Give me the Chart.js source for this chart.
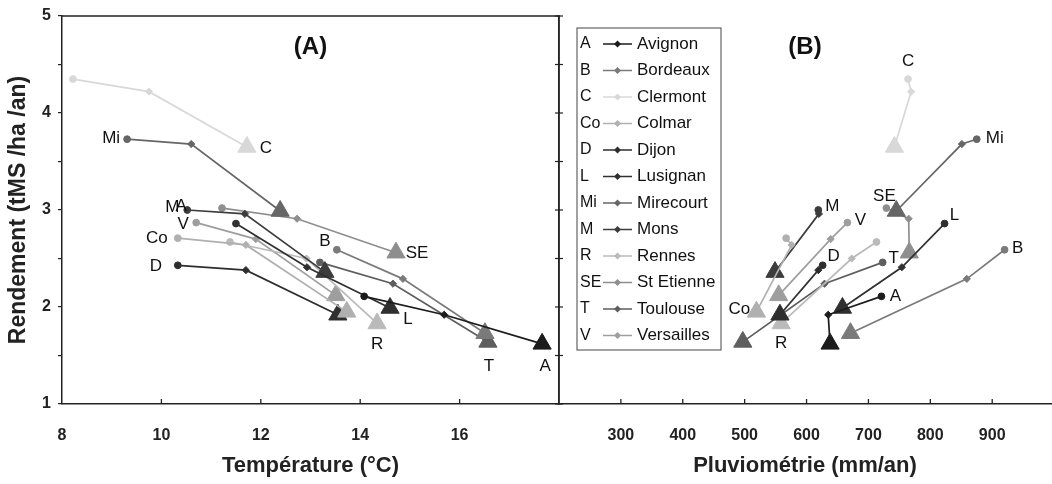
<!DOCTYPE html>
<html>
<head>
<meta charset="utf-8">
<script src="https://cdn.jsdelivr.net/npm/chart.js@4.4.1/dist/chart.umd.min.js"></script>
<style>
  html, body { margin: 0; padding: 0; background: #fff; overflow: hidden; }
  #wrap { position: relative; width: 1052px; height: 484px; }
  #wrap canvas { position: absolute; left: 0; top: 0; }
</style>
</head>
<body>
<div id="wrap">
  <canvas id="chartA" width="1052" height="484"></canvas>
  <canvas id="chartB" width="1052" height="484"></canvas>
</div>
<script>
// Sites, in legend order
const codes = ["A", "B", "C", "Co", "D", "L", "Mi", "M", "R", "SE", "T", "V"];
const sites = ["Avignon", "Bordeaux", "Clermont", "Colmar", "Dijon", "Lusignan",
  "Mirecourt", "Mons", "Rennes", "St Etienne", "Toulouse", "Versailles"];

// Three periods per site: two diamonds then the triangle
const rendement = [
  [2.11, 1.92, 1.62], [2.59, 2.29, 1.73], [4.35, 4.22, 3.65], [2.71, 2.64, 1.95],
  [2.43, 2.38, 1.92], [2.86, 2.41, 1.99], [3.73, 3.68, 2.99], [3.00, 2.96, 2.36],
  [2.67, 2.50, 1.83], [3.02, 2.91, 2.56], [2.46, 2.24, 1.64], [2.87, 2.70, 2.12]
];
const temperature = [
  [14.08, 15.69, 17.66], [13.53, 14.86, 16.51], [8.22, 9.75, 11.72], [10.33, 11.70, 13.73],
  [10.33, 11.70, 13.55], [11.50, 12.93, 14.60], [9.31, 10.60, 12.39], [10.52, 11.68, 13.29],
  [11.38, 12.92, 14.34], [11.22, 12.73, 14.72], [13.19, 14.66, 16.57], [10.70, 11.90, 13.51]
];
const pluviometrie = [
  [721, 635, 638], [920, 859, 671], [764, 769, 742], [567, 576, 519],
  [626, 619, 557], [823, 754, 658], [875, 851, 745], [619, 620, 549],
  [713, 673, 559], [729, 765, 766], [723, 629, 497], [666, 639, 555]
];

const tempTicks = [8, 10, 12, 14, 16];
const pluvTicks = [300, 400, 500, 600, 700, 800, 900];
const yTicks = [1, 1.5, 2, 2.5, 3, 3.5, 4, 4.5, 5];

const greys = ["#1c1c1c", "#7a7a7a", "#d8d8d8", "#b0b0b0", "#2e2e2e", "#303030",
  "#666666", "#3c3c3c", "#bababa", "#8e8e8e", "#5e5e5e", "#9e9e9e"];

// label placement: [site index, point index, text, dx, dy]
const labelsA = [
  [0, 2, "A", 3, 22], [1, 0, "B", -12, -8], [2, 2, "C", 19, 1], [3, 0, "Co", -21, 0],
  [4, 0, "D", -22, 1], [5, 2, "L", 18, 11], [6, 0, "Mi", -16, -1], [7, 0, "M", -15, -3],
  [7, 0, "A", -6, -4], [8, 2, "R", 0, 21], [9, 2, "SE", 21, 1], [10, 2, "T", 1, 24],
  [11, 0, "V", -13, 2]
];
const labelsB = [
  [0, 0, "A", 14, 0], [1, 0, "B", 13, -1], [2, 0, "C", 0, -18], [3, 2, "Co", -17, -3],
  [4, 0, "D", 11, -9], [5, 0, "L", 10, -8], [6, 0, "Mi", 18, -1], [7, 0, "M", 14, -4],
  [8, 2, "R", 0, 20], [9, 0, "SE", -2, -12], [10, 0, "T", 11, -4], [11, 0, "V", 13, -2]
];

const SANS = "'Liberation Sans', Arial, sans-serif";
const NARROW = "'Liberation Sans Narrow', 'Liberation Sans', Arial, sans-serif";
const INK = "#222";

function makeDatasets(xs) {
  return codes.map((c, i) => ({
    label: sites[i],
    data: xs[i].map((x, j) => ({ x: x, y: rendement[i][j] })),
    showLine: true,
    borderColor: greys[i],
    backgroundColor: greys[i],
    pointBackgroundColor: greys[i],
    pointBorderColor: greys[i],
    borderWidth: 1.7,
    pointStyle: ["circle", "rectRot", "triangle"],
    pointRadius: [3.4, 3.6, 10.5],
    pointBorderWidth: 1,
    clip: false
  }));
}

// Text labels, panel letter, inward x ticks, divider ticks and frame lines
const decorations = {
  id: "decorations",
  afterDraw(chart, args, opts) {
    const ctx = chart.ctx;
    const area = chart.chartArea;
    ctx.save();
    ctx.strokeStyle = INK;
    ctx.lineWidth = 1.3;
    const xs = chart.scales.x;
    opts.ticks.forEach(v => {
      const px = xs.getPixelForValue(v);
      if (px <= area.left + 1) return;
      ctx.beginPath();
      ctx.moveTo(px, area.bottom);
      ctx.lineTo(px, area.bottom - 5);
      ctx.stroke();
    });
    if (opts.frame) {
      ctx.lineWidth = 1.5;
      ctx.beginPath();
      ctx.moveTo(area.left, area.top);
      ctx.lineTo(area.right, area.top);
      ctx.lineTo(area.right, area.bottom);
      ctx.stroke();
    } else {
      const ys = chart.scales.y;
      ctx.lineWidth = 1.2;
      yTicks.forEach(v => {
        const py = ys.getPixelForValue(v);
        ctx.beginPath();
        ctx.moveTo(area.left - 4, py);
        ctx.lineTo(area.left + 4, py);
        ctx.stroke();
      });
    }
    ctx.fillStyle = "#111";
    ctx.font = "bold 24px " + SANS;
    ctx.textAlign = "center";
    ctx.textBaseline = "middle";
    ctx.fillText(opts.title, (area.left + area.right) / 2, area.top + 31);
    ctx.font = "17px " + SANS;
    opts.labels.forEach(([si, pi, text, dx, dy]) => {
      const el = chart.getDatasetMeta(si).data[pi];
      ctx.fillText(text, el.x + dx, el.y + dy);
    });
    if (opts.legend) {
      const lx = 577, ly = 28, lw = 144, lh = 322, step = 26.5;
      ctx.strokeStyle = "#444";
      ctx.lineWidth = 1;
      ctx.strokeRect(lx, ly, lw, lh);
      chart.data.datasets.forEach((ds, i) => {
        const y = 44 + i * step;
        ctx.fillStyle = "#111";
        ctx.textAlign = "left";
        ctx.font = "16px " + SANS;
        ctx.fillText(codes[i], 580, y);
        ctx.font = "17px " + SANS;
        ctx.fillText(ds.label, 637, y);
        ctx.strokeStyle = ds.borderColor;
        ctx.lineWidth = 1.5;
        ctx.beginPath();
        ctx.moveTo(603, y);
        ctx.lineTo(632, y);
        ctx.stroke();
        ctx.fillStyle = ds.borderColor;
        ctx.beginPath();
        ctx.moveTo(617.5, y - 3.5);
        ctx.lineTo(621, y);
        ctx.lineTo(617.5, y + 3.5);
        ctx.lineTo(614, y);
        ctx.closePath();
        ctx.fill();
      });
    }
    ctx.restore();
  }
};

function yAxis(showLabels) {
  return {
    type: "linear",
    min: 1,
    max: 5,
    ticks: {
      display: showLabels,
      stepSize: 0.5,
      callback: v => (Number.isInteger(v) ? v : ""),
      font: { family: SANS, weight: "bold", size: 16 },
      color: INK,
      padding: 7
    },
    grid: { display: showLabels, drawOnChartArea: false, drawTicks: true, tickLength: 4, color: INK, lineWidth: 1.2 },
    border: { display: true, color: INK, width: 1.5 },
    title: {
      display: showLabels,
      text: "Rendement (tMS /ha /an)",
      font: { family: SANS, weight: "bold", size: 23 },
      color: INK,
      padding: { top: 5, bottom: 0 }
    },
    afterFit: s => { s.width = showLabels ? 62 : 1; s.paddingTop = 0; s.paddingBottom = 0; }
  };
}

function xAxis(min, max, tickVals, title) {
  return {
    type: "linear",
    min: min,
    max: max,
    afterBuildTicks: s => { s.ticks = tickVals.map(v => ({ value: v })); },
    ticks: {
      font: { family: NARROW, weight: "bold", size: 16 },
      color: INK,
      padding: 22
    },
    grid: { display: false, drawTicks: false },
    border: { display: true, color: INK, width: 1.5 },
    title: {
      display: true,
      text: title,
      font: { family: NARROW, weight: "bold", size: 22 },
      color: INK,
      padding: { top: 0, bottom: 5 }
    },
    afterFit: s => { s.height = 80; s.paddingLeft = 0; s.paddingRight = 0; }
  };
}

new Chart(document.getElementById("chartA"), {
  type: "scatter",
  data: { datasets: makeDatasets(temperature) },
  options: {
    responsive: false,
    animation: false,
    layout: { autoPadding: false, padding: { left: 0, right: 1052 - 559, top: 16, bottom: 0 } },
    plugins: {
      legend: { display: false },
      tooltip: { enabled: false },
      decorations: { ticks: tempTicks, frame: true, title: "(A)", labels: labelsA, legend: false }
    },
    scales: { x: xAxis(8, 18, tempTicks, "Température (°C)"), y: yAxis(true) }
  },
  plugins: [decorations]
});

new Chart(document.getElementById("chartB"), {
  type: "scatter",
  data: { datasets: makeDatasets(pluviometrie) },
  options: {
    responsive: false,
    animation: false,
    layout: { autoPadding: false, padding: { left: 558, right: 1, top: 16, bottom: 0 } },
    plugins: {
      legend: { display: false },
      tooltip: { enabled: false },
      decorations: { ticks: pluvTicks, frame: false, title: "(B)", labels: labelsB, legend: true }
    },
    scales: { x: xAxis(200, 995, pluvTicks, "Pluviométrie (mm/an)"), y: yAxis(false) }
  },
  plugins: [decorations]
});
</script>
</body>
</html>
